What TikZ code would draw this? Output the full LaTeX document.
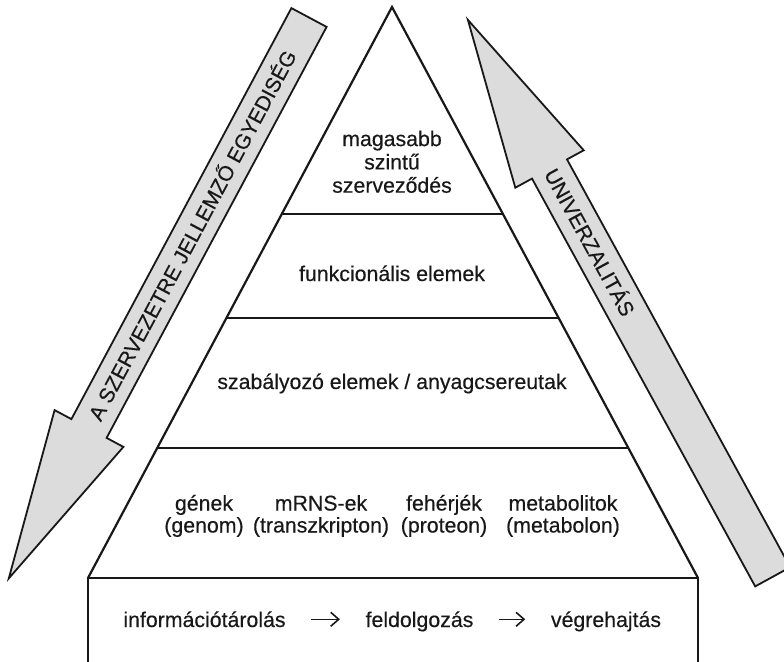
\documentclass[tikz,border=0pt]{standalone}
\usepackage{fontspec}
\setmainfont{Liberation Sans}
\newfontfamily\lblfont{Liberation Sans}[FakeBold=0.35]
\usetikzlibrary{arrows.meta,calc}
\definecolor{inkline}{RGB}{24,24,24}
\definecolor{arrowgray}{RGB}{220,220,220}

\begin{document}
\begin{tikzpicture}[
  x=1pt, y=-1pt,
  rim/.style={draw=inkline, line width=2.2pt, line join=miter},
  bigarrow/.style={draw=inkline, fill=arrowgray, line width=1.8pt, line join=miter},
  lbl/.style={font=\lblfont\fontsize{21.3}{23.3}\selectfont, text=inkline, align=center,
              inner sep=0pt, anchor=base},
  arrlbl/.style={font=\lblfont\fontsize{21}{24}\selectfont, text=inkline, inner sep=0pt,
                 sloped, text height=15pt, text depth=0pt},
  txtarr/.style={-{Straight Barb[length=8pt,width=14pt]}, line width=1.6pt, inkline,
                 shorten <=25pt, shorten >=25.5pt}
]
\useasboundingbox (0,0) rectangle (784,661);

% pyramid corners
\coordinate (apex)  at (392,7);
\coordinate (baseL) at (88,578);
\coordinate (baseR) at (698,578);

% the two big arrows
\coordinate (lnotch) at (89,428.5);
\coordinate (ltop)   at (309,17.5);
\coordinate (rnotch) at (549.5,169);
\coordinate (rbot)   at (772.7,576.8);
\draw[bigarrow] (291.4,8.1) -- (326.6,26.9) -- (106.6,437.9) -- (123.4,446.9)
  -- (8.8,578.4) -- (54.6,410.1) -- (71.4,419.1) -- cycle;
\draw[bigarrow] (467.9,19.9) -- (583.7,150.3) -- (567,159.4) -- (790.2,567.2)
  -- (755.2,586.4) -- (532,178.6) -- (515.3,187.7) -- cycle;
\path (lnotch) -- node[arrlbl, pos=0.47] (egyed) {A SZERVEZETRE JELLEMZŐ EGYEDISÉG} (ltop);
\path (rnotch) -- node[arrlbl, pos=0.18] (univ) {UNIVERZALITÁS} (rbot);

% pyramid and its layers
\draw[rim] (baseL) -- (apex) -- (baseR);
\draw[rim] (88,665) -- (baseL) -- (baseR) -- (698,665);
\foreach \t in {0.3625,0.5447,0.7723}
  \draw[rim] ($(apex)!\t!(baseL)$) -- ($(apex)!\t!(baseR)$);

% multi-line labels sit on the baseline of their last line
\node[lbl] (magas) at (392,192.7) {magasabb\\szintű\\szerveződés};
\node[lbl] (funk)  at (392,281) {funkcionális elemek};
\node[lbl] (szab)  at (392,389) {szabályozó elemek / anyagcsereutak};

\begin{scope}[lbl/.append style={font=\lblfont\fontsize{21.3}{22}\selectfont}]
\node[lbl] (gen)  at (204,532.5) {gének\\(genom)};
\node[lbl] (mrns) at (321,532.5) {mRNS-ek\\(transzkripton)};
\node[lbl] (feh)  at (444,532.5) {fehérjék\\(proteon)};
\node[lbl] (met)  at (563,532.5) {metabolitok\\(metabolon)};
\end{scope}

\node[lbl] (info) at (204.5,627) {információtárolás};
\node[lbl] (feld) at (419.5,627) {feldolgozás};
\node[lbl] (vegr) at (606,627)   {végrehajtás};
\draw[txtarr] ([yshift=7.7pt]info.base east) -- ([yshift=7.7pt]feld.base west);
\draw[txtarr] ([yshift=7.7pt]feld.base east) -- ([yshift=7.7pt]vegr.base west);
\end{tikzpicture}
\end{document}
